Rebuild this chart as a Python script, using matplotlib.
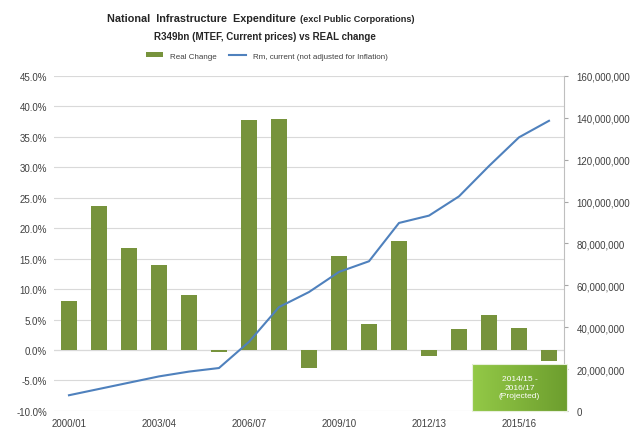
import numpy as np
import matplotlib
matplotlib.use("Agg")
import matplotlib.pyplot as plt
from matplotlib.ticker import FuncFormatter, MultipleLocator
from matplotlib.patches import Patch, Rectangle
from matplotlib.lines import Line2D

years = ["2000/01", "2001/02", "2002/03", "2003/04", "2004/05", "2005/06",
         "2006/07", "2007/08", "2008/09", "2009/10", "2010/11", "2011/12",
         "2012/13", "2013/14", "2014/15", "2015/16", "2016/17"]

# real change, percent
real_change = [8.0, 23.7, 16.8, 14.0, 9.0, -0.3, 37.7, 37.9, -3.0, 15.5,
               4.3, 17.9, -1.0, 3.4, 5.7, 3.7, -1.8]

# Rm, current prices
rm_current = [7.5e6, 10.5e6, 13.5e6, 16.5e6, 18.8e6, 20.5e6, 33.0e6, 49.6e6,
              56.8e6, 66.4e6, 71.5e6, 89.8e6, 93.3e6, 102.5e6, 117.0e6,
              130.7e6, 138.6e6]

plt.rcParams['font.family'] = ['Liberation Sans', 'DejaVu Sans']

bar_color = '#77933c'
line_color = '#4f81bd'
text_color = '#404040'

fig = plt.figure(figsize=(6.32, 4.35), dpi=100)
ax = fig.add_axes([0.0854, 0.053, 0.807, 0.770])
x = np.arange(len(years))

ax.bar(x, [v / 100 for v in real_change], width=0.53, color=bar_color, zorder=2)
ax.set_xlim(-0.5, len(years) - 0.5)
ax.set_ylim(-0.10, 0.45)
ax.yaxis.set_major_locator(MultipleLocator(0.05))
ax.yaxis.set_major_formatter(FuncFormatter(lambda v, p: "{:.1f}%".format(v * 100)))
ax.grid(axis='y', color='#d9d9d9', linewidth=0.8, zorder=0)
ax.axhline(0, color='#bfbfbf', linewidth=0.8, zorder=1)
ax.set_xticks(x[::3])
ax.set_xticklabels(years[::3])
ax.tick_params(axis='both', length=0, labelsize=7, colors=text_color, pad=5)
for s in ['top', 'left', 'bottom', 'right']:
    ax.spines[s].set_visible(False)

ax2 = ax.twinx()
ax2.plot(x, rm_current, color=line_color, linewidth=1.5, zorder=3)
ax2.set_ylim(0, 160e6)
ax2.yaxis.set_major_locator(MultipleLocator(20e6))
ax2.yaxis.set_major_formatter(FuncFormatter(lambda v, p: "{:,.0f}".format(v)))
ax2.tick_params(axis='y', length=3, color='#a6a6a6', labelsize=7,
                labelcolor=text_color, pad=6)
for s in ['top', 'left', 'bottom']:
    ax2.spines[s].set_visible(False)
ax2.spines['right'].set_color('#bfbfbf')

# projected years box
grad = np.linspace(0, 1, 100).reshape(1, -1)
ax2.imshow(grad, extent=[0.82, 1.006, 0.0, 0.14], transform=ax2.transAxes,
           cmap=matplotlib.colors.LinearSegmentedColormap.from_list(
               'g', ['#93c947', '#6d9e2e']),
           aspect='auto', zorder=5, clip_on=False)
ax2.add_patch(Rectangle((0.82, 0.0), 0.186, 0.14, transform=ax2.transAxes,
                        facecolor='none', edgecolor='#e8f0dc', linewidth=0.8,
                        zorder=6, clip_on=False))
ax2.text(0.913, 0.07, "2014/15 -\n2016/17\n(Projected)", transform=ax2.transAxes,
         ha='center', va='center', fontsize=6, color='white', zorder=7,
         linespacing=1.3)
ax2.set_xlim(-0.5, len(years) - 0.5)
ax2.set_ylim(0, 160e6)

# titles
fig.text(0.468, 0.957, "National  Infrastructure  Expenditure", ha='right',
         va='center', fontsize=7.8, fontweight='bold', color='#262626')
fig.text(0.475, 0.955, "(excl Public Corporations)", ha='left',
         va='center', fontsize=6.6, fontweight='bold', color='#262626')
fig.text(0.419, 0.914, "R349bn (MTEF, Current prices) vs REAL change",
         ha='center', va='center', fontsize=7.0, fontweight='bold', color='#262626')

handles = [Patch(facecolor=bar_color, label='Real Change'),
           Line2D([0], [0], color=line_color, linewidth=1.5,
                  label='Rm, current (not adjusted for Inflation)')]
fig.legend(handles=handles, loc='center', bbox_to_anchor=(0.422, 0.869), ncol=2,
           frameon=False, fontsize=5.8, handlelength=2.2, handleheight=0.6,
           columnspacing=1.5, labelcolor=text_color)

fig.savefig("out.png", dpi=100)
